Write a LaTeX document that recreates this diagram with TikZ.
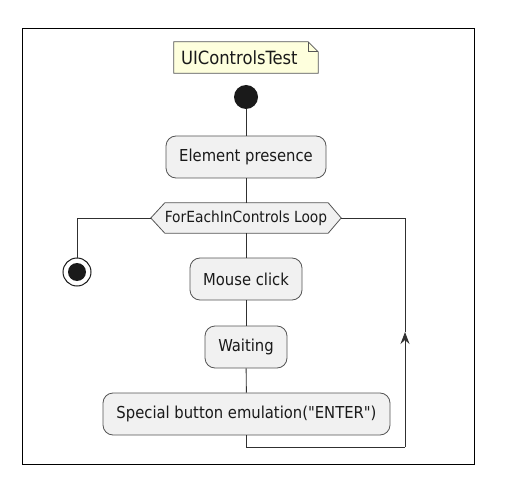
\documentclass[tikz,border=0pt]{standalone}
\usepackage{fontspec}
\setmainfont{DejaVu Sans Condensed}[Ligatures=TeXOff]
\usetikzlibrary{calc,arrows.meta}
\definecolor{nodefill}{HTML}{F1F1F1}
\definecolor{nodeline}{HTML}{555555}
\definecolor{linec}{HTML}{303030}
\definecolor{notefill}{HTML}{FEFFDD}
\definecolor{darkc}{HTML}{1A1A1A}
\tikzset{
  act/.style={draw=nodeline, fill=nodefill, rounded corners=10bp, minimum height=42bp, inner sep=0pt, text=darkc, font=\fontsize{16.5}{18}\selectfont, line width=0.8bp},
  conn/.style={draw=linec, line width=0.9bp},
}
\begin{document}
\begin{tikzpicture}[x=1bp,y=-1bp]
\useasboundingbox (0,0) rectangle (526,484);
\fill[white] (0,0) rectangle (526,484);
\draw[black, line width=1bp] (22,29) rectangle (474,464);
% note
\node[minimum width=144bp, minimum height=31bp, inner sep=0pt] (note) at (246,57.5) {};
\draw[draw=nodeline, fill=notefill, line width=0.8bp] (note.south west) -- (note.north west) -- ($(note.north east)+(-10,0)$) -- ($(note.north east)+(0,10)$) -- (note.south east) -- cycle;
\draw[draw=nodeline, line width=0.8bp] ($(note.north east)+(-10,0)$) -- ($(note.north east)+(-10,10)$) -- ($(note.north east)+(0,10)$);
\node[anchor=west, inner sep=0pt, text=darkc, font=\fontsize{18.3}{20}\selectfont] at ($(note.west)+(7,0)$) {UIControlsTest};
% start
\node[circle, fill=darkc, minimum size=24bp, inner sep=0pt] (start) at (246,97) {};
% activities
\node[act, minimum width=160bp] (ep) at (246,157) {Element presence};
\node[minimum width=190bp, minimum height=30bp, inner sep=0pt] (loop) at (246,218) {};
\draw[draw=nodeline, fill=nodefill, line width=0.8bp] (loop.west) -- ($(loop.north west)+(14,0)$) -- ($(loop.north east)+(-13,0)$) -- (loop.east) -- ($(loop.south east)+(-13,0)$) -- ($(loop.south west)+(14,0)$) -- cycle;
\node[text=darkc, font=\fontsize{15.4}{17}\selectfont, inner sep=0pt] at (loop) {ForEachInControls Loop};
\node[act, minimum width=112bp] (mc) at (246,279) {Mouse click};
\node[act, minimum width=82bp] (wait) at (246,347) {Waiting};
\node[act, minimum width=287bp] (spec) at (246.5,414) {Special button emulation("ENTER")};
% end
\node[circle, draw=darkc, fill=white, line width=1bp, minimum size=28bp, inner sep=0pt] (end) at (77,272) {};
\fill[darkc] (end.center) circle (9bp);
% connectors
\draw[conn] (start) -- (ep);
\draw[conn] (ep) -- (loop.north);
\draw[conn] (loop.south) -- (mc);
\draw[conn] (mc) -- (wait);
\draw[conn] (wait) -- (spec);
\draw[conn] (loop.west) -| (end);
\coordinate (back) at (405,447);
\coordinate (arr) at (405,332);
\draw[conn] (spec.south) |- (back);
\draw[conn, -{Stealth[length=12bp, width=9bp, inset=4bp]}] (back) -- (arr);
\draw[conn] (arr) |- (loop.east);
\end{tikzpicture}
\end{document}
